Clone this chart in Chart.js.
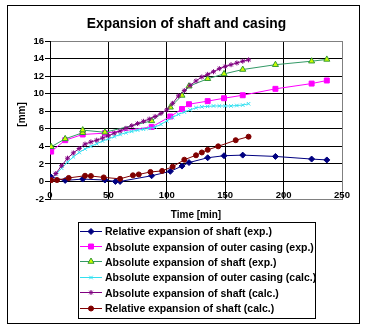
<!DOCTYPE html>
<html>
<head>
<meta charset="utf-8">
<script src="https://cdn.jsdelivr.net/npm/chart.js@4.4.1/dist/chart.umd.min.js"></script>
<style>
  html, body { margin: 0; padding: 0; background: #fff; }
  #wrap { position: relative; width: 368px; height: 325px; overflow: hidden; font-family: "Liberation Sans", Arial, sans-serif; }
  #chart { position: absolute; left: 0; top: 0; }
  #frame { position: absolute; left: 7px; top: 5px; width: 351px; height: 317px; border: 1px solid #000; pointer-events: none; }
  #title { position: absolute; left: 0; top: 15px; width: 373px; line-height: 18px; text-align: center; font-weight: bold; font-size: 13.8px; }
  #legend { position: absolute; left: 78px; top: 222px; width: 236px; height: 94px; border: 1px solid #000; background: #fff; padding-top: 0.5px; box-sizing: content-box; }
  .row { height: 15.4px; display: flex; align-items: center; font-weight: bold; font-size: 10.5px; white-space: nowrap; }
  .row canvas { margin-left: 1px; margin-right: 3px; }
</style>
</head>
<body>
<div id="wrap">
  <canvas id="chart" width="368" height="325"></canvas>
  <div id="frame"></div>
  <div id="title">Expansion of shaft and casing</div>
  <div id="legend"></div>
</div>
<script>
// series labels
const labels = [
  'Relative expansion of shaft (exp.)',
  'Absolute expansion of outer casing (exp.)',
  'Absolute expansion of shaft (exp.)',
  'Absolute expansion of outer casing (calc.)',
  'Absolute expansion of shaft (calc.)',
  'Relative expansion of shaft (calc.)'
];

// measured values, time [min] / expansion [mm]
const relShaftExpT = [1, 13, 28, 47, 56, 60, 87, 103, 113, 119, 135, 149, 165, 193, 224, 237];
const relShaftExpV = [0.5, 0.12, 0.27, 0.16, 0.0, 0.0, 0.65, 1.15, 1.75, 2.15, 2.7, 2.93, 3.0, 2.85, 2.55, 2.45];

const absCasingExpT = [1, 13, 28, 47, 87, 103, 113, 119, 135, 149, 165, 193, 224, 237];
const absCasingExpV = [3.4, 4.7, 5.35, 5.5, 6.2, 7.4, 8.25, 8.8, 9.15, 9.48, 9.82, 10.55, 11.15, 11.5];

const absShaftExpT = [1, 13, 28, 28, 47, 87, 103, 113, 119, 135, 149, 165, 193, 224, 237];
const absShaftExpV = [3.95, 4.85, 5.55, 5.85, 5.6, 6.9, 8.45, 9.8, 10.85, 11.7, 12.25, 12.75, 13.3, 13.7, 13.9];

// calculated values
const absCasingCalcT = [0, 5, 10, 15, 20, 25, 30, 35, 40, 45, 50, 55, 60, 65, 70, 75, 80, 85,
  90, 95, 100, 105, 110, 115, 120, 125, 130, 135, 140, 145, 150, 155, 160, 165, 170];
const absCasingCalcV = [0.2, 0.8, 1.5, 2.2, 2.8, 3.3, 3.7, 4.0, 4.3, 4.6, 4.85, 5.1, 5.35, 5.55, 5.7, 5.85, 5.95, 6.05,
  6.2, 6.5, 6.9, 7.3, 7.65, 7.9, 8.15, 8.4, 8.5, 8.55, 8.6, 8.6, 8.6, 8.6, 8.65, 8.7, 8.85];

const absShaftCalcT = [0, 5, 10, 15, 20, 25, 30, 35, 40, 45, 50, 55, 60, 65, 70, 75, 80, 85,
  90, 95, 100, 105, 110, 115, 120, 125, 130, 135, 140, 145, 150, 155, 160, 165, 170];
const absShaftCalcV = [0.1, 0.9, 1.8, 2.65, 3.25, 3.75, 4.25, 4.5, 4.7, 4.95, 5.2, 5.5, 5.75, 6.05, 6.35, 6.6, 6.85, 7.1,
  7.4, 7.75, 8.15, 8.9, 9.75, 10.35, 10.95, 11.45, 11.9, 12.2, 12.5, 12.85, 13.1, 13.3, 13.5, 13.7, 13.85];

const relShaftCalcT = [1, 6, 16, 30, 35, 46, 60, 71, 76, 86, 96, 105, 115, 125, 130, 135, 144, 159, 170];
const relShaftCalcV = [0.15, 0.16, 0.4, 0.65, 0.62, 0.46, 0.3, 0.7, 0.8, 1.08, 1.2, 1.68, 2.48, 2.98, 3.3, 3.6, 4.0, 4.7, 5.1];

// axis ticks
const xMin = 0, xMax = 250, xStep = 50;
const yMin = -2, yMax = 16, yStep = 2;

function pts(t, v) {
  return t.map((x, i) => ({ x: x, y: v[i] }));
}

function series(i, t, v, line, style, radius, fill, edge) {
  return {
    label: labels[i],
    data: pts(t, v),
    showLine: true,
    borderColor: line,
    borderWidth: 1,
    pointStyle: style,
    pointRadius: radius,
    pointBackgroundColor: fill,
    pointBorderColor: edge,
    pointBorderWidth: 1,
    order: 5 - i  // later series on top, like Excel
  };
}

const datasets = [
  series(0, relShaftExpT, relShaftExpV, '#000080', 'rectRot', 3, '#000080', '#000080'),
  series(1, absCasingExpT, absCasingExpV, '#FF00FF', 'rect', 3.5, '#FF00FF', '#FF00FF'),
  series(2, absShaftExpT, absShaftExpV, '#339966', 'triangle', 3.5, '#CCFF00', '#339933'),
  series(3, absCasingCalcT, absCasingCalcV, '#33E0F0', 'crossRot', 2.5, '#33E0F0', '#33E0F0'),
  series(4, absShaftCalcT, absShaftCalcV, '#800080', 'star', 2.5, '#800080', '#800080'),
  series(5, relShaftCalcT, relShaftCalcV, '#800000', 'circle', 2.5, '#800000', '#800000')
];

Chart.defaults.font.family = '"Liberation Sans", Arial, sans-serif';
Chart.defaults.font.weight = 'bold';
Chart.defaults.color = '#000';

const chart = new Chart(document.getElementById('chart'), {
  type: 'scatter',
  data: { datasets: datasets },
  options: {
    responsive: false,
    animation: false,
    devicePixelRatio: 1,
    layout: { padding: { left: 0, top: 41, right: 26, bottom: 104 } },
    plugins: {
      legend: { display: false },
      tooltip: { enabled: false }
    },
    scales: {
      x: {
        type: 'linear',
        min: xMin, max: xMax,
        // labels sit just above the plot's bottom edge, as in the Excel original
        ticks: { stepSize: xStep, mirror: true, padding: -2, maxRotation: 0, font: { size: 9.5, weight: 'bold' } },
        grid: {
          color: ctx => (ctx.tick && ctx.tick.value === xMax) ? '#808080' : '#000',
          lineWidth: 1,
          drawTicks: false
        },
        border: { color: '#808080' },
        title: { display: true, text: 'Time [min]', font: { size: 10, weight: 'bold' }, padding: 0 },
        afterFit: s => { s.height = 22; }
      },
      y: {
        min: yMin, max: yMax,
        ticks: { stepSize: yStep, padding: 1, font: { size: 9.5, weight: 'bold' } },
        grid: {
          color: ctx => (ctx.tick && (ctx.tick.value === yMax || ctx.tick.value === yMin)) ? '#808080' : '#000',
          tickColor: '#000',
          tickLength: 5,
          lineWidth: 1
        },
        border: { color: '#000' },
        // leading spaces nudge the rotated label a little higher
        title: { display: true, text: '    [mm]', font: { size: 10, weight: 'bold' }, padding: { top: 16, bottom: 0 } },
        afterFit: s => { s.width = 50; }
      }
    }
  }
});

// legend box below the plot, built from the chart's datasets
const legendBox = document.getElementById('legend');
chart.data.datasets.forEach(ds => {
  const row = document.createElement('div');
  row.className = 'row';
  const c = document.createElement('canvas');
  c.width = 22; c.height = 9;
  const g = c.getContext('2d');
  g.strokeStyle = ds.borderColor;
  g.lineWidth = 1;
  g.beginPath(); g.moveTo(0, 4.5); g.lineTo(22, 4.5); g.stroke();
  g.fillStyle = ds.pointBackgroundColor;
  g.strokeStyle = ds.pointBorderColor;
  if (Chart.helpers && Chart.helpers.drawPoint) {
    Chart.helpers.drawPoint(g, { pointStyle: ds.pointStyle, radius: ds.pointRadius, rotation: 0, borderWidth: 1 }, 11, 4.5);
  }
  const span = document.createElement('span');
  span.textContent = ds.label;
  row.appendChild(c);
  row.appendChild(span);
  legendBox.appendChild(row);
});
</script>
</body>
</html>
